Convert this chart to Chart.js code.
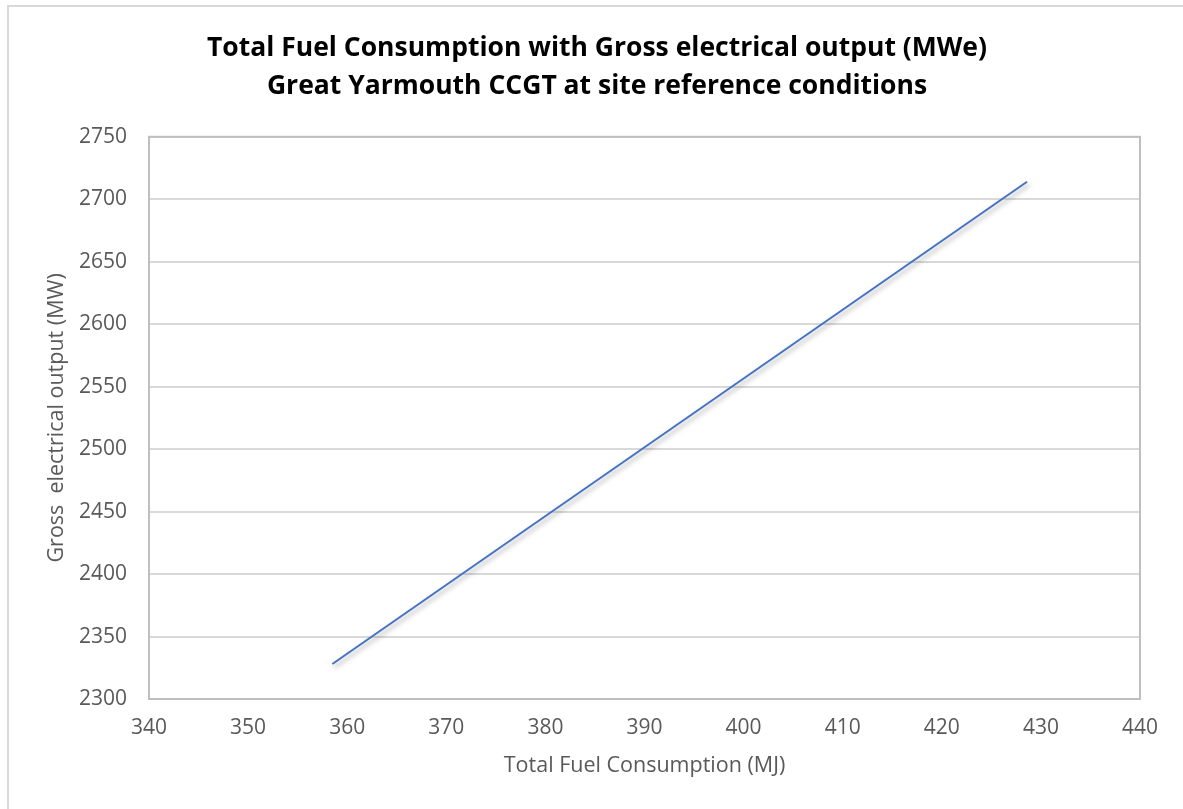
<!DOCTYPE html>
<html>
<head>
<meta charset="utf-8">
<script src="https://cdn.jsdelivr.net/npm/chart.js@4"></script>
<style>
  html, body { margin: 0; padding: 0; background: #fff; }
  #wrap { position: relative; width: 1183px; height: 809px; }
</style>
</head>
<body>
<div id="wrap"><canvas id="grafico" width="1183" height="809"></canvas></div>
<script>
// datos
const consumoMJ = [358.5, 428.6];
const potenciaMW = [2328, 2714];
const tituloLineas = [
  "Total Fuel Consumption with Gross electrical output (MWe)",
  "Great Yarmouth CCGT at site reference conditions"
];
const tituloX = "Total Fuel Consumption (MJ)";
const tituloY = "Gross  electrical output (MW)";

const FUENTE = "'Open Sans', 'Noto Sans', sans-serif";

// marco exterior y borde del area de trazado
const marcos = {
  id: "marcos",
  beforeDraw(chart) {
    const ctx = chart.ctx;
    ctx.save();
    ctx.fillStyle = "#ffffff";
    ctx.fillRect(0, 0, chart.width, chart.height);
    ctx.strokeStyle = "#d9d9d9";
    ctx.lineWidth = 2;
    ctx.strokeRect(8, 6, chart.width + 40, chart.height + 40);
    ctx.restore();
  },
  beforeDatasetsDraw(chart) {
    const { ctx, chartArea: a } = chart;
    ctx.save();
    ctx.strokeStyle = "#bfbfbf";
    ctx.lineWidth = 2;
    ctx.strokeRect(a.left, a.top, a.right - a.left, a.bottom - a.top);
    ctx.restore();
  }
};

// sombra suave de la linea
const sombra = {
  id: "sombra",
  beforeDatasetDraw(chart) {
    const ctx = chart.ctx;
    ctx.save();
    ctx.shadowColor = "rgba(0,0,0,0.35)";
    ctx.shadowBlur = 5;
    ctx.shadowOffsetX = 2;
    ctx.shadowOffsetY = 3;
  },
  afterDatasetDraw(chart) {
    chart.ctx.restore();
  }
};

const ctx = document.getElementById("grafico").getContext("2d");

new Chart(ctx, {
  type: "scatter",
  data: {
    datasets: [{
      label: "Gross electrical output",
      data: consumoMJ.map((x, i) => ({ x: x, y: potenciaMW[i] })),
      showLine: true,
      borderColor: "#4472c4",
      borderWidth: 2,
      pointRadius: 0,
      fill: false
    }]
  },
  options: {
    responsive: false,
    animation: false,
    layout: { padding: { left: 54, right: 43, top: 0, bottom: 0 } },
    plugins: {
      legend: { display: false },
      tooltip: { enabled: false },
      title: {
        display: true,
        text: tituloLineas,
        color: "#000000",
        font: { family: FUENTE, size: 26.5, weight: "bold", lineHeight: 1.43 },
        padding: { top: 30, bottom: 31 }
      }
    },
    scales: {
      x: {
        type: "linear",
        min: 340,
        max: 440,
        afterFit: (s) => { s.height = 110; },
        ticks: {
          stepSize: 10,
          color: "#595959",
          padding: 16,
          font: { family: FUENTE, size: 21 }
        },
        grid: { display: false, drawTicks: false },
        border: { display: true, color: "#bfbfbf", width: 2 },
        title: {
          display: true,
          text: tituloX,
          color: "#595959",
          font: { family: FUENTE, size: 21.5 },
          padding: { top: 0, bottom: 30 }
        }
      },
      y: {
        type: "linear",
        min: 2300,
        max: 2750,
        afterFit: (s) => { s.width = 95; },
        ticks: {
          stepSize: 50,
          color: "#595959",
          padding: 22,
          font: { family: FUENTE, size: 21 },
          callback: (v) => String(v)
        },
        grid: { color: "#d9d9d9", lineWidth: 2, drawTicks: false },
        border: { display: true, color: "#bfbfbf", width: 2 },
        title: {
          display: true,
          text: tituloY,
          color: "#595959",
          font: { family: FUENTE, size: 21.5 },
          padding: { top: -10, bottom: 0 }
        }
      }
    }
  },
  plugins: [marcos, sombra]
});
</script>
</body>
</html>
